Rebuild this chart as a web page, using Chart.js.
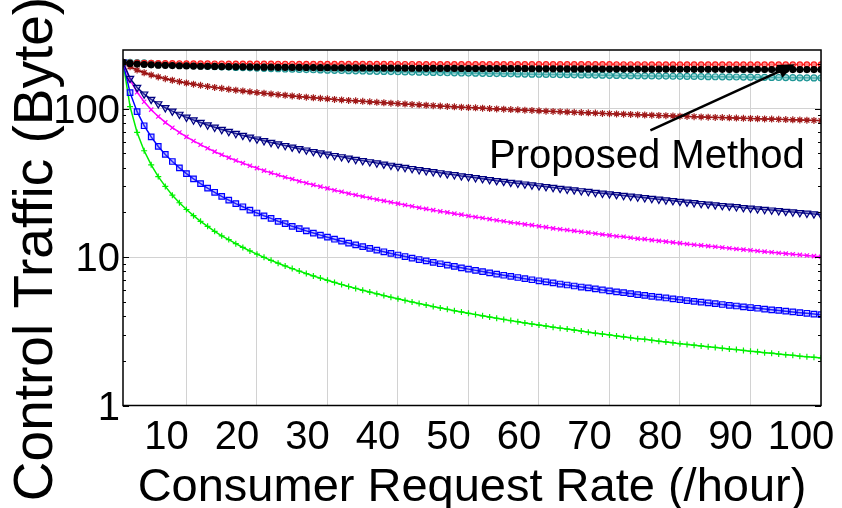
<!DOCTYPE html>
<html>
<head>
<meta charset="UTF-8">
<script src="https://cdn.jsdelivr.net/npm/chart.js@4.4.1/dist/chart.umd.min.js"></script>
<style>
    html, body { margin: 0; padding: 0; background: #fff; }
</style>
</head>
<body>
<canvas id="myChart" width="842" height="508"></canvas>

<script>
    // consumer request rate (/hour)
    const rate = [1,2,3,4,5,6,7,8,9,10,11,12,13,14,15,16,17,18,19,20,
        21,22,23,24,25,26,27,28,29,30,31,32,33,34,35,36,37,38,39,40,
        41,42,43,44,45,46,47,48,49,50,51,52,53,54,55,56,57,58,59,60,
        61,62,63,64,65,66,67,68,69,70,71,72,73,74,75,76,77,78,79,80,
        81,82,83,84,85,86,87,88,89,90,91,92,93,94,95,96,97,98,99,100];

    // control traffic (Byte)
    const proposed = [205,203.9,203.3,202.8,202.5,202.2,202.0,201.8,201.6,201.4,
        201.3,201.1,201.0,200.9,200.8,200.7,200.6,200.5,200.4,200.3,
        200.3,200.2,200.1,200.1,200.0,199.9,199.9,199.8,199.8,199.7,
        199.7,199.6,199.6,199.6,199.5,199.5,199.4,199.4,199.4,199.3,
        199.3,199.3,199.2,199.2,199.2,199.1,199.1,199.1,199.0,199.0,
        199.0,199.0,198.9,198.9,198.9,198.9,198.8,198.8,198.8,198.8,
        198.7,198.7,198.7,198.7,198.7,198.6,198.6,198.6,198.6,198.6,
        198.5,198.5,198.5,198.5,198.5,198.4,198.4,198.4,198.4,198.4,
        198.3,198.3,198.3,198.3,198.3,198.2,198.2,198.2,198.2,198.2,
        198.1,198.1,198.1,198.1,198.0,198.0,198.0,198.0,197.9,197.9];

    const blackSeries = [205.0,201.5,199.5,198.1,197.0,196.1,195.4,194.7,194.2,193.7,
        193.2,192.8,192.4,192.1,191.7,191.4,191.1,190.9,190.6,190.4,
        190.1,189.9,189.7,189.5,189.3,189.2,189.0,188.8,188.6,188.5,
        188.3,188.2,188.0,187.9,187.8,187.6,187.5,187.4,187.3,187.1,
        187.0,186.9,186.8,186.7,186.6,186.5,186.4,186.3,186.2,186.1,
        186.0,185.9,185.9,185.8,185.7,185.6,185.5,185.5,185.4,185.3,
        185.2,185.2,185.1,185.0,185.0,184.9,184.8,184.8,184.7,184.6,
        184.6,184.5,184.5,184.4,184.3,184.3,184.2,184.2,184.1,184.0,
        183.9,183.9,183.8,183.8,183.7,183.7,183.6,183.6,183.5,183.4,
        183.4,183.3,183.3,183.2,183.2,183.1,183.1,183.0,183.0,183.0];

    const cyanSeries = [205,204.9,204.2,202.9,201.5,200.2,199.0,197.7,196.6,195.5,
        194.6,193.6,192.7,191.8,191.0,190.2,189.4,188.7,188.0,187.3,
        186.6,186.0,185.4,184.7,184.2,183.6,183.0,182.5,182.0,181.5,
        181.0,180.5,180.0,179.5,179.1,178.6,178.2,177.8,177.4,177.0,
        176.5,176.2,175.8,175.4,175.1,174.7,174.3,174.0,173.6,173.3,
        173.0,172.6,172.3,172.0,171.7,171.4,171.1,170.8,170.5,170.2,
        169.9,169.6,169.3,169.1,168.8,168.5,168.3,168.0,167.8,167.5,
        167.1,166.8,166.6,166.3,166.1,165.8,165.6,165.4,165.1,164.9,
        164.7,164.5,164.2,164.0,163.8,163.6,163.4,163.2,163.0,162.7,
        162.5,162.3,162.1,161.9,161.6,161.4,161.2,161.0,160.8,160.6];

    const darkRedSeries = [205,191.2,181.7,174.3,168.4,163.3,159.0,155.1,151.8,148.7,
        145.9,143.3,141.0,138.8,136.8,134.8,133.0,131.4,129.7,128.2,
        126.8,125.4,124.1,122.9,121.6,120.5,119.4,118.3,117.3,116.3,
        115.3,114.4,113.5,112.7,111.8,111.0,110.2,109.4,108.7,108.0,
        107.3,106.6,105.9,105.3,104.6,104.0,103.4,102.8,102.2,101.7,
        101.1,100.6,100.0,99.5,99.0,98.5,98.0,97.5,97.1,96.6,
        96.1,95.7,95.3,94.8,94.4,94.0,93.6,93.2,92.8,92.4,
        92.0,91.7,91.3,90.9,90.5,90.2,89.8,89.5,89.2,88.8,
        88.5,88.2,87.8,87.5,87.2,86.9,86.6,86.3,86.0,85.7,
        85.4,85.2,84.9,84.6,84.3,84.0,83.8,83.5,83.2,83.0];

    const navySeries = [205,159.7,138.6,125.1,115.3,107.6,101.3,96.0,91.4,87.3,
        83.7,80.5,77.5,74.8,72.3,70.0,67.9,65.9,64.1,62.3,
        60.7,59.1,57.7,56.3,54.95,53.7,52.5,51.3,50.2,49.2,
        48.2,47.3,46.3,45.4,44.6,43.75,42.96,42.2,41.45,40.7,
        40.05,39.4,38.7,38.1,37.5,36.9,36.3,35.8,35.2,34.7,
        34.2,33.7,33.2,32.7,32.3,31.8,31.4,31.0,30.55,30.15,
        29.76,29.4,29.0,28.6,28.3,27.9,27.6,27.2,26.9,26.6,
        26.3,25.96,25.66,25.36,25.07,24.79,24.5,24.2,23.97,23.7,
        23.4,23.2,22.9,22.7,22.45,22.2,22.0,21.8,21.5,21.3,
        21.1,20.9,20.7,20.5,20.3,20.1,19.9,19.7,19.5,19.3];

    const magentaSeries = [205,155.8,128.9,111.1,98.3,88.5,80.7,74.3,69.0,64.5,
        60.5,57.1,54.0,51.3,48.9,46.7,44.7,42.9,41.2,39.7,
        38.2,36.9,35.7,34.5,33.5,32.4,31.5,30.6,29.8,29.0,
        28.2,27.5,26.8,26.2,25.6,25.0,24.4,23.9,23.4,22.9,
        22.4,22.0,21.5,21.1,20.7,20.3,20.0,19.6,19.3,18.9,
        18.6,18.3,18.0,17.7,17.4,17.1,16.9,16.6,16.4,16.1,
        15.9,15.6,15.4,15.2,15.0,14.8,14.6,14.4,14.2,14.0,
        13.8,13.7,13.5,13.3,13.2,13.0,12.85,12.7,12.55,12.4,
        12.25,12.1,11.98,11.85,11.72,11.59,11.47,11.34,11.22,11.10,
        10.99,10.87,10.76,10.65,10.55,10.44,10.34,10.24,10.14,10.04];

    const blueSeries = [205,128.0,95.3,76.6,64.4,55.6,49.1,44.0,39.9,36.5,
        33.6,31.2,29.1,27.3,25.6,24.2,22.9,21.8,20.7,19.8,
        18.95,18.2,17.4,16.8,16.1,15.55,15.0,14.5,14.04,13.6,
        13.18,12.79,12.42,12.07,11.74,11.43,11.13,10.85,10.58,10.32,
        10.08,9.84,9.62,9.41,9.20,9.01,8.82,8.64,8.46,8.29,
        8.13,7.98,7.83,7.68,7.54,7.41,7.28,7.15,7.03,6.92,
        6.80,6.69,6.58,6.48,6.38,6.28,6.19,6.10,6.00,5.92,
        5.83,5.75,5.67,5.59,5.51,5.44,5.37,5.30,5.23,5.16,
        5.09,5.03,4.97,4.91,4.85,4.79,4.73,4.68,4.62,4.57,
        4.52,4.46,4.41,4.37,4.32,4.27,4.22,4.18,4.13,4.09];

    const greenSeries = [205,103,69.1,52.0,41.8,34.8,29.9,26.1,23.2,20.9,
        19.0,17.4,16.1,14.9,13.9,13.1,12.3,11.6,11.0,10.45,
        9.95,9.50,9.09,8.71,8.36,8.04,7.74,7.46,7.21,6.97,
        6.74,6.53,6.33,6.15,5.97,5.81,5.65,5.50,5.36,5.23,
        5.10,4.98,4.86,4.75,4.64,4.54,4.45,4.35,4.27,4.18,
        4.10,4.02,3.94,3.87,3.80,3.73,3.67,3.60,3.54,3.48,
        3.43,3.37,3.32,3.27,3.22,3.17,3.12,3.07,3.03,2.99,
        2.94,2.90,2.86,2.82,2.79,2.75,2.71,2.68,2.65,2.61,
        2.58,2.55,2.52,2.49,2.46,2.43,2.40,2.38,2.35,2.32,
        2.30,2.27,2.25,2.22,2.20,2.18,2.15,2.13,2.11,2.09];

    const xTicks = [10, 20, 30, 40, 50, 60, 70, 80, 90, 100];
    const yTicks = [1, 10, 100];
    const yMinorTicks = [2, 3, 4, 5, 6, 7, 8, 9, 20, 30, 40, 50, 60, 70, 80, 90, 200];

    // annotation: arrow from tail to tip, in data units
    const arrowTail = [75.8, 71.4];
    const arrowTip = [96.3, 198.6];
    const labelAt = [75.3, 47];
    const yTitle = 'Control Traffic (Byte)';

    const FONT = '"Liberation Sans", Arial, sans-serif';

    function pts(values) {
        return rate.map((r, i) => ({x: r, y: values[i]}));
    }

    function series(values, color, style, radius, fill, extra) {
        return Object.assign({
            data: pts(values),
            borderColor: color,
            borderWidth: 1.5,
            pointStyle: style,
            pointRadius: radius,
            pointBorderColor: color,
            pointBackgroundColor: fill,
            pointBorderWidth: 1.2,
            fill: false,
            tension: 0
        }, extra || {});
    }

    const decor = {
        id: 'decor',
        afterDatasetsDraw(chart) {
            const {ctx, chartArea: a, scales: {x, y}} = chart;
            ctx.save();
            ctx.strokeStyle = '#000';
            ctx.lineWidth = 1.5;
            ctx.strokeRect(a.left, a.top, a.right - a.left, a.bottom - a.top);

            // inward ticks on left and right edges
            ctx.lineWidth = 1;
            ctx.beginPath();
            yMinorTicks.forEach(v => {
                const py = Math.round(y.getPixelForValue(v)) + 0.5;
                ctx.moveTo(a.left, py); ctx.lineTo(a.left + 3, py);
                ctx.moveTo(a.right, py); ctx.lineTo(a.right - 3, py);
            });
            yTicks.forEach(v => {
                const py = Math.round(y.getPixelForValue(v)) + 0.5;
                ctx.moveTo(a.left, py); ctx.lineTo(a.left + 6, py);
                ctx.moveTo(a.right, py); ctx.lineTo(a.right - 6, py);
            });
            ctx.stroke();

            // arrow
            const x0 = x.getPixelForValue(arrowTail[0]), y0 = y.getPixelForValue(arrowTail[1]);
            const x1 = x.getPixelForValue(arrowTip[0]), y1 = y.getPixelForValue(arrowTip[1]);
            const ang = Math.atan2(y1 - y0, x1 - x0);
            const headLen = 17, headW = 7;
            const bx = x1 - headLen * Math.cos(ang), by = y1 - headLen * Math.sin(ang);
            ctx.lineWidth = 2.5;
            ctx.beginPath();
            ctx.moveTo(x0, y0);
            ctx.lineTo(bx, by);
            ctx.stroke();
            ctx.fillStyle = '#000';
            ctx.beginPath();
            ctx.moveTo(x1, y1);
            ctx.lineTo(bx + headW * Math.sin(ang), by - headW * Math.cos(ang));
            ctx.lineTo(bx - headW * Math.sin(ang), by + headW * Math.cos(ang));
            ctx.closePath();
            ctx.fill();

            // label
            ctx.font = '40px ' + FONT;
            ctx.textAlign = 'center';
            ctx.textBaseline = 'middle';
            ctx.fillText('Proposed Method', x.getPixelForValue(labelAt[0]), y.getPixelForValue(labelAt[1]));

            // y axis title, taller than the plot like the original
            ctx.translate(52, 249);
            ctx.rotate(-Math.PI / 2);
            ctx.font = '55px ' + FONT;
            ctx.textBaseline = 'alphabetic';
            ctx.fillText(yTitle, 0, 0);
            ctx.restore();
        }
    };

    const ctx = document.getElementById('myChart').getContext('2d');
    const chart = new Chart(ctx, {
        type: 'line',
        data: {
            datasets: [
                series(blackSeries, '#000000', 'circle', 3, '#000000'),
                series(proposed, '#ff1a1a', 'circle', 2.6, 'rgba(255,140,140,0.9)'),
                series(cyanSeries, '#1f9696', 'circle', 3, 'rgba(120,200,200,0.6)'),
                series(darkRedSeries, '#8b0000', 'star', 3.5, 'rgba(200,100,100,0.5)', {pointBorderColor: '#a01818'}),
                series(navySeries, '#000080', 'triangle', 4.2, 'rgba(110,110,200,0.35)', {pointRotation: 180}),
                series(magentaSeries, '#ff00ff', 'crossRot', 3, '#ff00ff'),
                series(blueSeries, '#0000ff', 'rect', 3.9, 'rgba(100,100,255,0.35)'),
                series(greenSeries, '#00f000', 'cross', 3, '#00f000')
            ]
        },
        options: {
            responsive: false,
            animation: false,
            layout: {padding: {top: 50, right: 21, left: 0, bottom: 0}},
            plugins: {legend: {display: false}, tooltip: {enabled: false}},
            scales: {
                x: {
                    type: 'linear',
                    min: 1,
                    max: 100,
                    afterBuildTicks: s => { s.ticks = xTicks.map(v => ({value: v})); },
                    afterFit: s => { s.height = 102.5; s.paddingLeft = 0; s.paddingRight = 0; },
                    grid: {color: '#d2d2d2', lineWidth: 1, drawTicks: false},
                    border: {display: false},
                    ticks: {
                        font: {family: FONT, size: 40},
                        color: '#000',
                        padding: 8,
                        labelOffset: -20,
                        maxRotation: 0,
                        autoSkip: false
                    },
                    title: {
                        display: true,
                        text: 'Consumer Request Rate (/hour)',
                        font: {family: FONT, size: 47, lineHeight: 0.85},
                        color: '#000',
                        padding: 0
                    }
                },
                y: {
                    type: 'logarithmic',
                    min: 1,
                    max: 248,
                    afterBuildTicks: s => { s.ticks = yTicks.map(v => ({value: v})); },
                    afterFit: s => { s.width = 123; s.paddingTop = 0; s.paddingBottom = 0; },
                    grid: {color: '#d2d2d2', lineWidth: 1, drawTicks: false},
                    border: {display: false},
                    ticks: {
                        font: {family: FONT, size: 40},
                        color: '#000',
                        padding: 3,
                        labelOffset: 3,
                        callback: v => String(v)
                    },
                    title: {display: false}
                }
            }
        },
        plugins: [decor]
    });
</script>
</body>
</html>
